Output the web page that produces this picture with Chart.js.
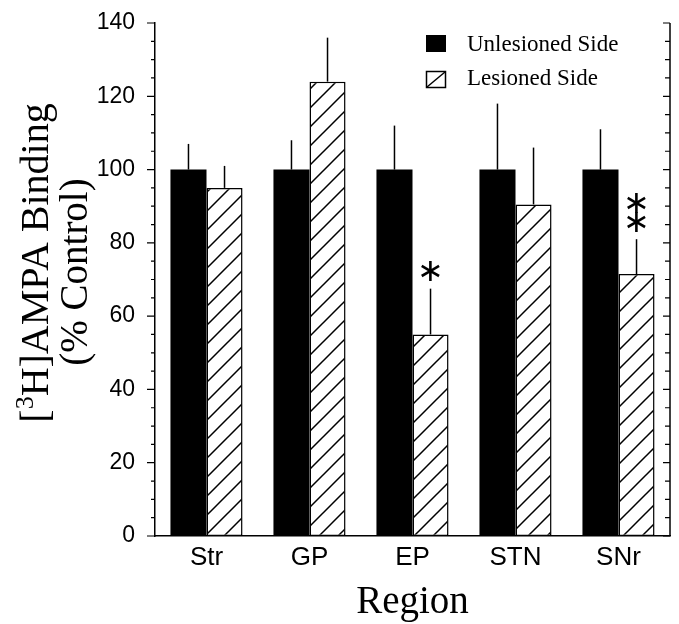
<!DOCTYPE html>
<html>
<head>
<script src="https://cdn.jsdelivr.net/npm/chart.js@4/dist/chart.umd.min.js"></script>
<style>body{margin:0;background:#fff}</style>
</head>
<body>
<canvas id="chart" width="679" height="624"></canvas>
<script>
// data
const regions = ['Str', 'GP', 'EP', 'STN', 'SNr'];
const unlesioned = [100, 100, 100, 100, 100];
const unlesionedSem = [7, 8, 12, 18, 11];
const lesioned = [95, 124, 55, 90.5, 71.5];
const lesionedSem = [6, 12, 12.5, 15.5, 9.5];
const marks = ['', '', '*', '', '**'];
const yMin = 0, yMax = 140;

const serif = '"Liberation Serif", "Times New Roman", serif';
const sans = '"Liberation Sans", Arial, sans-serif';

function hatch() {
    const s = 19;
    const c = document.createElement('canvas');
    c.width = s; c.height = s;
    const g = c.getContext('2d');
    g.fillStyle = '#fff';
    g.fillRect(0, 0, s, s);
    g.strokeStyle = '#000';
    g.lineWidth = 1.5;
    g.beginPath();
    g.moveTo(-2, s + 2); g.lineTo(s + 2, -2);
    g.moveTo(-2, 2); g.lineTo(2, -2);
    g.moveTo(s - 2, s + 2); g.lineTo(s + 2, s - 2);
    g.stroke();
    return g.createPattern(c, 'repeat');
}

const extras = {
    id: 'extras',
    afterDatasetsDraw(chart) {
        const ctx = chart.ctx, y = chart.scales.y, a = chart.chartArea;
        ctx.save();
        ctx.strokeStyle = '#000';
        ctx.fillStyle = '#000';
        ctx.lineWidth = 1.5;
        // error bars (upper only) and significance marks
        [unlesionedSem, lesionedSem].forEach((sem, di) => {
            const vals = chart.data.datasets[di].data;
            chart.getDatasetMeta(di).data.forEach((bar, i) => {
                const top = y.getPixelForValue(vals[i] + sem[i]);
                ctx.beginPath();
                ctx.moveTo(bar.x, bar.y);
                ctx.lineTo(bar.x, top);
                ctx.stroke();
                if (di === 1 && marks[i]) {
                    ctx.font = '32px "DejaVu Sans", sans-serif';
                    ctx.textAlign = 'center';
                    ctx.textBaseline = 'middle';
                    for (let k = 0; k < marks[i].length; k++) {
                        ctx.fillText('\u2217', bar.x, top - 16 - k * 19);
                    }
                }
            });
        });
        // left ticks (outward) and right axis with inward ticks
        const right = a.right;
        ctx.lineWidth = 1.5;
        ctx.beginPath();
        ctx.moveTo(right, y.getPixelForValue(yMax));
        ctx.lineTo(right, y.getPixelForValue(yMin));
        ctx.stroke();
        ctx.lineWidth = 1.2;
        for (let v = yMin; v <= yMax; v += 5) {
            const py = y.getPixelForValue(v);
            const major = v % 20 === 0;
            ctx.beginPath();
            ctx.moveTo(a.left, py);
            ctx.lineTo(a.left - (major ? 8 : 4), py);
            ctx.moveTo(right, py);
            ctx.lineTo(right - (major ? 7 : 5), py);
            ctx.stroke();
        }
        ctx.restore();
    },
    afterDraw(chart) {
        const ctx = chart.ctx, a = chart.chartArea;
        ctx.save();
        ctx.fillStyle = '#000';
        ctx.strokeStyle = '#000';
        // legend
        ctx.fillRect(426, 35, 20, 17);
        ctx.lineWidth = 1.5;
        ctx.strokeRect(426.5, 71.5, 19, 16);
        ctx.beginPath();
        ctx.moveTo(427, 87); ctx.lineTo(445, 72);
        ctx.stroke();
        ctx.font = '23px ' + serif;
        ctx.textAlign = 'left';
        ctx.textBaseline = 'alphabetic';
        ctx.fillText('Unlesioned Side', 467, 51);
        ctx.fillText('Lesioned Side', 467, 85);
        // x title
        ctx.font = '39px ' + serif;
        ctx.textAlign = 'center';
        ctx.fillText('Region', (a.left + a.right) / 2, 613);
        // y title, two lines, with superscript 3
        ctx.translate(48, 263);
        ctx.rotate(-Math.PI / 2);
        const big = '40px ' + serif, sup = '26px ' + serif;
        ctx.font = big;
        const w1 = ctx.measureText('[').width, w3 = ctx.measureText('H]AMPA Binding').width;
        ctx.font = sup;
        const w2 = ctx.measureText('3').width;
        let x = -(w1 + w2 + w3) / 2;
        ctx.textAlign = 'left';
        ctx.font = big;
        ctx.fillText('[', x, 0);
        x += w1;
        ctx.font = sup;
        ctx.fillText('3', x, -15);
        x += w2;
        ctx.font = big;
        ctx.fillText('H]AMPA Binding', x, 0);
        ctx.setTransform(1, 0, 0, 1, 0, 0);
        ctx.translate(87, 272);
        ctx.rotate(-Math.PI / 2);
        ctx.textAlign = 'center';
        ctx.font = '39px ' + serif;
        ctx.fillText('(% Control)', 0, 0);
        ctx.restore();
    }
};

new Chart(document.getElementById('chart'), {
    type: 'bar',
    data: {
        labels: regions,
        datasets: [{
            label: 'Unlesioned Side',
            data: unlesioned,
            backgroundColor: '#000',
            borderWidth: 0
        }, {
            label: 'Lesioned Side',
            data: lesioned,
            backgroundColor: hatch(),
            borderColor: '#000',
            borderWidth: 1.5,
            borderSkipped: false
        }]
    },
    options: {
        responsive: false,
        devicePixelRatio: 1,
        animation: false,
        layout: { padding: { top: 23, right: 9, left: 0, bottom: 0 } },
        plugins: { legend: { display: false }, tooltip: { enabled: false } },
        datasets: { bar: { categoryPercentage: 0.7, barPercentage: 1.0 } },
        scales: {
            x: {
                grid: { display: false },
                border: { display: true, color: '#000', width: 1.5 },
                ticks: { color: '#000', font: { family: sans, size: 26 }, padding: -2 },
                afterFit(s) { s.height = 88; s.paddingLeft = 0; s.paddingRight = 0; }
            },
            y: {
                min: yMin,
                max: yMax,
                grid: { display: false },
                border: { display: true, color: '#000', width: 1.5 },
                ticks: { stepSize: 20, color: '#000', font: { family: sans, size: 23 }, padding: 12 },
                afterFit(s) { s.width = 155; s.paddingTop = 0; s.paddingBottom = 0; }
            }
        }
    },
    plugins: [extras]
});
</script>
</body>
</html>
